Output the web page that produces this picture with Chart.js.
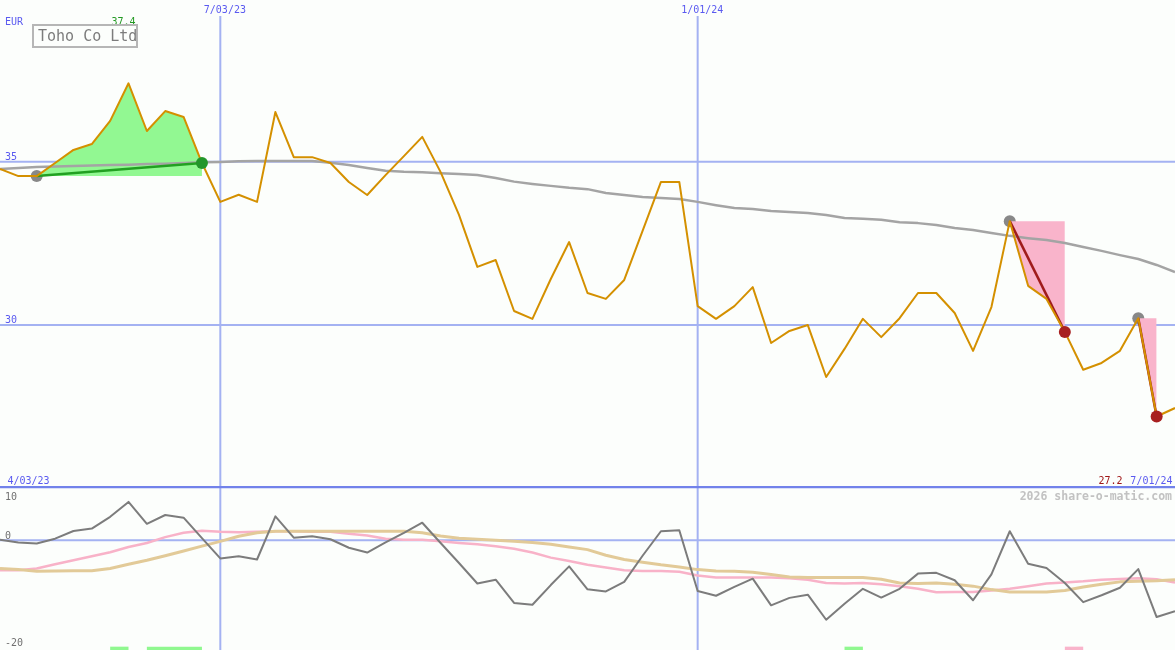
<!DOCTYPE html>
<html>
<head>
<meta charset="utf-8">
<title>Toho Co Ltd</title>
<script src="https://cdn.jsdelivr.net/npm/chart.js@4.4.1/dist/chart.umd.min.js"></script>
<style>
  html, body { margin: 0; padding: 0; background: #fcfefc; }
  #wrap { position: relative; width: 1175px; height: 650px; overflow: hidden; }
  #wrap canvas { position: absolute; left: 0; }
  #price { top: 0; }
  #osc { top: 486px; }
</style>
</head>
<body>
<div id="wrap">
  <canvas id="price" width="1175" height="486"></canvas>
  <canvas id="osc" width="1175" height="164"></canvas>
</div>
<script>
// weekly closes, index 0..64
var stockName = 'Toho Co Ltd';
var currency = 'EUR';
var axisStart = '4/03/23';
var axisEnd = '7/01/24';
var dateIndex = [12, 38];
var dateLabels = ['7/03/23', '1/01/24'];
var priceTicks = [35, 30];
var oscTicks = [10, 0, -20];

var price = [34.78, 34.56, 34.56, 34.96, 35.36, 35.54, 36.25, 37.4, 35.94, 36.55,
  36.37, 34.96, 33.77, 33.99, 33.77, 36.52, 35.14, 35.14, 34.96, 34.38,
  33.98, 34.59, 35.17, 35.76, 34.68, 33.37, 31.78, 31.99, 30.43, 30.19,
  31.41, 32.54, 30.98, 30.80, 31.38, 32.88, 34.38, 34.38, 30.58, 30.19,
  30.58, 31.16, 29.45, 29.82, 30.00, 28.41, 29.27, 30.19, 29.63, 30.21,
  30.98, 30.98, 30.37, 29.21, 30.55, 33.18, 31.20, 30.80, 29.79, 28.63,
  28.84, 29.21, 30.21, 27.2, 27.46];

var priceMA = [34.78, 34.81, 34.84, 34.85, 34.87, 34.88, 34.90, 34.91, 34.93, 34.94,
  34.96, 34.98, 34.99, 35.01, 35.02, 35.02, 35.02, 35.02, 34.97, 34.90,
  34.81, 34.72, 34.69, 34.68, 34.65, 34.62, 34.59, 34.50, 34.39, 34.32,
  34.26, 34.20, 34.16, 34.04, 33.98, 33.92, 33.89, 33.86, 33.77, 33.67,
  33.58, 33.55, 33.49, 33.46, 33.43, 33.37, 33.28, 33.25, 33.22, 33.15,
  33.12, 33.06, 32.97, 32.91, 32.82, 32.73, 32.66, 32.60, 32.51, 32.39,
  32.27, 32.14, 32.02, 31.84, 31.62];

var oscMain = [0.1, -0.4, -0.6, 0.3, 1.75, 2.2, 4.4, 7.2, 3.1, 4.75,
  4.25, 0.4, -3.4, -3.0, -3.6, 4.5, 0.5, 0.75, 0.2, -1.4,
  -2.3, -0.4, 1.4, 3.3, -0.5, -4.25, -8.1, -7.4, -11.75, -12.1,
  -8.4, -4.9, -9.2, -9.6, -7.8, -2.9, 1.7, 1.9, -9.5, -10.4,
  -8.75, -7.2, -12.2, -10.8, -10.2, -14.9, -11.9, -9.1, -10.75, -9.1,
  -6.25, -6.1, -7.5, -11.25, -6.4, 1.7, -4.4, -5.2, -8.0, -11.6,
  -10.3, -8.9, -5.4, -14.4, -13.3];

var oscPink = [-5.6, -5.6, -5.3, -4.5, -3.75, -3.0, -2.25, -1.25, -0.5, 0.6,
  1.4, 1.8, 1.6, 1.5, 1.6, 1.7, 1.7, 1.6, 1.6, 1.25,
  0.9, 0.3, 0.1, 0.1, -0.2, -0.5, -0.75, -1.1, -1.6, -2.3,
  -3.25, -3.9, -4.6, -5.1, -5.6, -5.75, -5.75, -5.9, -6.6, -7.0,
  -7.0, -7.0, -7.0, -7.1, -7.4, -8.0, -8.1, -8.0, -8.25, -8.6,
  -9.1, -9.75, -9.7, -9.7, -9.4, -9.1, -8.6, -8.1, -7.9, -7.7,
  -7.4, -7.25, -7.1, -7.3, -7.9];

var oscTan = [-5.3, -5.5, -5.8, -5.75, -5.7, -5.7, -5.3, -4.5, -3.75, -2.9,
  -2.0, -1.1, -0.2, 0.75, 1.4, 1.7, 1.7, 1.7, 1.7, 1.7,
  1.7, 1.7, 1.7, 1.4, 0.8, 0.4, 0.2, 0.0, -0.2, -0.4,
  -0.75, -1.25, -1.75, -2.8, -3.6, -4.1, -4.6, -5.0, -5.5, -5.75,
  -5.8, -6.0, -6.4, -6.9, -7.0, -7.0, -7.0, -7.0, -7.3, -8.0,
  -8.1, -8.0, -8.25, -8.6, -9.25, -9.7, -9.7, -9.7, -9.4, -8.75,
  -8.25, -7.8, -7.7, -7.6, -7.4];

// trades as [entry index, exit index]
var winTrades = [[2, 11]];
var lossTrades = [[55, 58], [62, 63]];
// signal bars along the bottom, [from index, to index]
var buyBars = [[6, 7], [8, 11], [46, 47]];
var sellBars = [[58, 59]];

var BLUE = '#5a5af0';
var GRID = '#a4b2f2';
var SEP = '#7282ea';
var FONT_SM = '10px "DejaVu Sans Mono", monospace';

function pts(arr, from, to) {
  var out = [];
  from = from || 0;
  to = (to === undefined) ? arr.length - 1 : to;
  for (var i = from; i <= to; i++) out.push({x: i, y: arr[i]});
  return out;
}

function hLine(ctx, x0, x1, py, color, w) {
  ctx.strokeStyle = color;
  ctx.lineWidth = w;
  ctx.beginPath();
  ctx.moveTo(x0, py);
  ctx.lineTo(x1, py);
  ctx.stroke();
}

function vLine(ctx, px, y0, y1, color, w) {
  ctx.strokeStyle = color;
  ctx.lineWidth = w;
  ctx.beginPath();
  ctx.moveTo(px, y0);
  ctx.lineTo(px, y1);
  ctx.stroke();
}

function baseOptions(yMin, yMax) {
  return {
    responsive: false,
    animation: false,
    events: [],
    layout: { padding: 0, autoPadding: false },
    plugins: { legend: { display: false }, tooltip: { enabled: false } },
    scales: {
      x: { type: 'linear', display: false, min: 0, max: price.length - 1, bounds: 'data' },
      y: { type: 'linear', display: false, min: yMin, max: yMax, bounds: 'data' }
    },
    elements: {
      point: { radius: 0 },
      line: { tension: 0, borderJoinStyle: 'round' }
    }
  };
}

// ---------- price panel ----------
var priceSets = [];

priceSets.push({
  data: pts(price), borderColor: '#d49000', borderWidth: 2, order: 3
});
priceSets.push({
  data: pts(priceMA), borderColor: '#a4a4a4', borderWidth: 2.5, order: 5
});

function addTrade(t, fillColor, lineColor, dotColor) {
  var s = t[0], e = t[1];
  priceSets.push({
    data: pts(price, s, e), borderColor: 'transparent', borderWidth: 0,
    backgroundColor: fillColor, fill: { value: price[s] }, order: 6
  });
  priceSets.push({
    data: [{x: s, y: price[s]}, {x: e, y: price[e]}],
    borderColor: lineColor, borderWidth: 2.5, order: 4
  });
  priceSets.push({
    data: [{x: s, y: price[s]}], showLine: false, pointRadius: 6,
    pointBackgroundColor: '#888888', pointBorderWidth: 0, order: 7
  });
  priceSets.push({
    data: [{x: e, y: price[e]}], showLine: false, pointRadius: 6,
    pointBackgroundColor: dotColor, pointBorderWidth: 0, order: 1
  });
}
winTrades.forEach(function(t) { addTrade(t, '#92f892', '#22a022', '#22962a'); });
lossTrades.forEach(function(t) { addTrade(t, '#f9b4cb', '#a01c1c', '#a82020'); });

var priceDecor = {
  id: 'priceDecor',
  beforeDatasetsDraw: function(chart) {
    var ctx = chart.ctx, a = chart.chartArea, x = chart.scales.x, y = chart.scales.y;
    ctx.save();
    priceTicks.forEach(function(v) { hLine(ctx, a.left, a.right, y.getPixelForValue(v), GRID, 2); });
    dateIndex.forEach(function(i) { vLine(ctx, x.getPixelForValue(i), 16, a.bottom, GRID, 2); });
    ctx.restore();
  },
  afterDatasetsDraw: function(chart) {
    var ctx = chart.ctx, x = chart.scales.x, y = chart.scales.y;
    ctx.save();
    ctx.font = FONT_SM;
    ctx.textBaseline = 'alphabetic';
    ctx.fillStyle = BLUE;
    ctx.textAlign = 'left';
    ctx.fillText(currency, 5, 25);
    priceTicks.forEach(function(v) { ctx.fillText(String(v), 5, y.getPixelForValue(v) - 2); });
    dateIndex.forEach(function(i, k) { ctx.fillText(dateLabels[k], x.getPixelForValue(i) - 16.5, 13); });
    ctx.fillText(axisStart, 7.5, 483.5);
    ctx.textAlign = 'right';
    ctx.fillText(axisEnd, 1172.5, 483.5);

    var hi = Math.max.apply(null, price), lo = Math.min.apply(null, price);
    ctx.fillStyle = '#229922';
    ctx.fillText(hi.toFixed(1), x.getPixelForValue(price.indexOf(hi)) + 7, 25);
    ctx.fillStyle = '#a01818';
    ctx.fillText(lo.toFixed(1), 1122.5, 483.5);

    // name box
    ctx.strokeStyle = '#b6b6b6';
    ctx.lineWidth = 2;
    ctx.strokeRect(33, 25, 104, 22);
    ctx.textAlign = 'left';
    ctx.fillStyle = '#7c7c7c';
    ctx.font = '15px "DejaVu Sans Mono", monospace';
    ctx.fillText(stockName, 38, 41);
    ctx.restore();
  }
};

// 35 sits at y=161.7, 32.67 px per unit, panel 486 px high
var pTop = 35 + 161.7 / 32.67;
new Chart(document.getElementById('price'), {
  type: 'line',
  data: { datasets: priceSets },
  options: baseOptions(pTop - 486 / 32.67, pTop),
  plugins: [priceDecor]
});

// ---------- oscillator panel ----------
var oTop = 10 + 1 / 5.33;
var oBottom = oTop - 164 / 5.33;
var barLevel = oBottom + 0.3;

var oscSets = [
  { data: pts(oscMain), borderColor: '#7c7c7c', borderWidth: 2, order: 1 },
  { data: pts(oscPink), borderColor: '#f8b2c8', borderWidth: 2.5, order: 3 },
  { data: pts(oscTan), borderColor: '#e2ca98', borderWidth: 3, order: 2 }
];
buyBars.forEach(function(b) {
  oscSets.push({ data: [{x: b[0], y: barLevel}, {x: b[1], y: barLevel}],
    borderColor: '#90f890', borderWidth: 3.5, borderCapStyle: 'butt', order: 4 });
});
sellBars.forEach(function(b) {
  oscSets.push({ data: [{x: b[0], y: barLevel}, {x: b[1], y: barLevel}],
    borderColor: '#f9b4cb', borderWidth: 3.5, borderCapStyle: 'butt', order: 4 });
});

var oscDecor = {
  id: 'oscDecor',
  beforeDatasetsDraw: function(chart) {
    var ctx = chart.ctx, a = chart.chartArea, x = chart.scales.x, y = chart.scales.y;
    ctx.save();
    dateIndex.forEach(function(i) { vLine(ctx, x.getPixelForValue(i), a.top, a.bottom, GRID, 2); });
    hLine(ctx, a.left, a.right, y.getPixelForValue(0), GRID, 2);
    hLine(ctx, a.left, a.right, y.getPixelForValue(10), SEP, 2.5);
    ctx.restore();
  },
  afterDatasetsDraw: function(chart) {
    var ctx = chart.ctx, y = chart.scales.y;
    ctx.save();
    ctx.textBaseline = 'alphabetic';
    ctx.font = FONT_SM;
    ctx.fillStyle = '#707070';
    ctx.textAlign = 'left';
    oscTicks.forEach(function(v) {
      ctx.fillText(String(v), 5, Math.max(y.getPixelForValue(v) - 1.2, 13.5));
    });
    ctx.font = 'bold 11.5px "DejaVu Sans Mono", monospace';
    ctx.fillStyle = '#c2c2c2';
    ctx.textAlign = 'right';
    ctx.fillText('2026 share-o-matic.com', 1172, 14);
    ctx.restore();
  }
};

new Chart(document.getElementById('osc'), {
  type: 'line',
  data: { datasets: oscSets },
  options: baseOptions(oBottom, oTop),
  plugins: [oscDecor]
});
</script>
</body>
</html>
